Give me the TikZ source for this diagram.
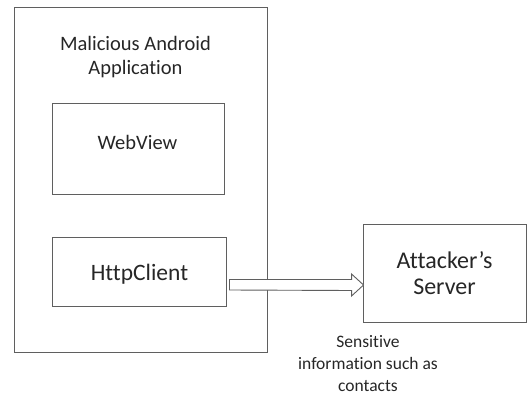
\documentclass[tikz,border=0pt]{standalone}
\usepackage{fontspec}
\setmainfont{Carlito}[Ligatures={NoCommon}]
\usepackage{xcolor}
\usetikzlibrary{positioning,calc}
\definecolor{edgegray}{RGB}{95,95,95}
\tikzset{
  frame/.style  = {draw=edgegray, line width=0.9pt, inner sep=0pt},
  label/.style  = {align=center, inner sep=0pt, text=black!85},
  hollow/.style = {draw=edgegray, line width=0.9pt, fill=white, line join=miter},
}

\begin{document}
\begin{tikzpicture}[x=1pt, y=-1pt]
  \useasboundingbox (0,0) rectangle (527,396);
  % the app and what it holds
  \node[frame, minimum width=253pt, minimum height=345pt] (app) at (140.5,179.5) {};
  \node[label, font=\fontsize{20.5}{24}\selectfont] (apptitle) at (135.5,57) {Malicious Android\\Application};
  \node[frame, minimum width=172pt, minimum height=91pt] (web) at (138,148.5) {};
  \node[label, anchor=base, font=\fontsize{20.5}{24}\selectfont] (webtext) at (137.5,149) {WebView};
  \node[frame, minimum width=174pt, minimum height=69pt] (http) at (139,271.5) {};
  \node[label, anchor=base, font=\fontsize{23.5}{26}\selectfont] (httptext) at (139.5,280) {HttpClient};
  % remote side
  \node[frame, minimum width=163pt, minimum height=98pt, align=center, text=black!85, font=\fontsize{24}{26}\selectfont] (server) at (444.5,273) {Attacker’s\\Server};
  \node[label, font=\fontsize{17.5}{22}\selectfont] (leak) at (368,364) {Sensitive\\information such as\\contacts};
  % data going out
  \draw[hollow] ($(http.east)+(3,8)$) -- ($(server.west)+(-11,6.5)$) -- ($(server.west)+(-11,1)$)
    -- ($(server.west)+(1,12)$) -- ($(server.west)+(-11,23)$) -- ($(server.west)+(-11,17.5)$)
    -- ($(http.east)+(3,18.5)$) -- cycle;
\end{tikzpicture}
\end{document}
